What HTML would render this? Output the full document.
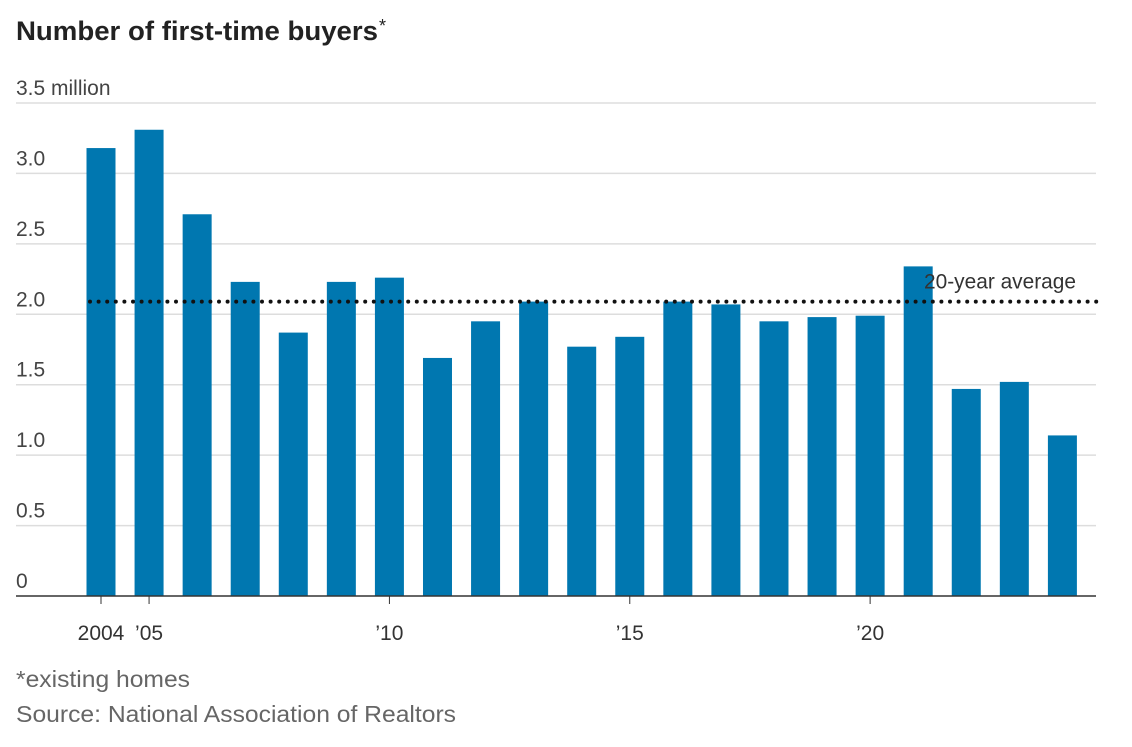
<!DOCTYPE html>
<html><head><meta charset="utf-8"><style>
body{margin:0;background:#fff;width:1132px;height:742px;overflow:hidden;font-family:"Liberation Sans",sans-serif}
</style></head><body>
<svg width="1132" height="742" id="c">
<text x="16" y="40" font-size="27" font-weight="bold" fill="#222" textLength="362" lengthAdjust="spacingAndGlyphs">Number of first-time buyers</text>
<text x="379" y="32" font-size="18" fill="#222">*</text>
<g id="grid"></g><g id="bars"></g><g id="avg"></g><g id="xl"></g>
<text x="16" y="687" font-size="23" fill="#666" textLength="174" lengthAdjust="spacingAndGlyphs">*existing homes</text>
<text x="16" y="722" font-size="23" fill="#666" textLength="440" lengthAdjust="spacingAndGlyphs">Source: National Association of Realtors</text>
</svg>
<script>
const years=[2004,2005,2006,2007,2008,2009,2010,2011,2012,2013,2014,2015,2016,2017,2018,2019,2020,2021,2022,2023,2024];
const values=[3.18,3.31,2.71,2.23,1.87,2.23,2.26,1.69,1.95,2.09,1.77,1.84,2.09,2.07,1.95,1.98,1.99,2.34,1.47,1.52,1.14];
const yTicks=[0,0.5,1.0,1.5,2.0,2.5,3.0,3.5];
const yTickLabels=["0","0.5","1.0","1.5","2.0","2.5","3.0","3.5 million"];
const xTickYears=[2004,2005,2010,2015,2020];
const xTickLabels=["2004","\u201905","\u201910","\u201915","\u201920"];
const average=2.09;
const NS="http://www.w3.org/2000/svg";
const y=v=>596-v*140.86;
const x=yr=>101+(yr-2004)*48.07;
function mk(t,a,p){const e=document.createElementNS(NS,t);for(const k in a)e.setAttribute(k,a[k]);p.appendChild(e);return e;}
const G=document.getElementById('grid');
yTicks.forEach((v,i)=>{
 if(v>0){const l=mk('line',{x1:16,x2:1096,y1:y(v),y2:y(v),stroke:'#ddd','stroke-width':1.5},G);
 
 }
 const t=mk('text',{x:16,y:y(v)-8,'font-size':21,fill:'#444'},G);t.textContent=yTickLabels[i];
 
 
});
const B=document.getElementById('bars');
years.forEach((yr,i)=>{
 const r=mk('rect',{x:x(yr)-14.5,y:y(values[i]),width:29,height:596-y(values[i]),fill:'#0077b0'},B);
 
 
});
const base=mk('line',{x1:16,x2:1096,y1:596,y2:596,stroke:'#333','stroke-width':1.5},B);


const A=document.getElementById('avg');
const al=mk('line',{x1:90,x2:1098,y1:y(average),y2:y(average),stroke:'#111','stroke-width':4,'stroke-dasharray':'0 8.6','stroke-linecap':'round'},A);


const at=mk('text',{x:1076,y:y(average)-13,'font-size':21,fill:'#333','text-anchor':'end',textLength:152,lengthAdjust:'spacingAndGlyphs'},A);at.textContent='20-year average';


const X=document.getElementById('xl');
xTickYears.forEach((yr,i)=>{
 const tk=mk('line',{x1:x(yr),x2:x(yr),y1:596,y2:604,stroke:'#333','stroke-width':1},X);
 
 
 const t=mk('text',{x:x(yr),y:640,'font-size':21,fill:'#333','text-anchor':'middle'},X);t.textContent=xTickLabels[i];
 
 
});
</script>
</body></html>
